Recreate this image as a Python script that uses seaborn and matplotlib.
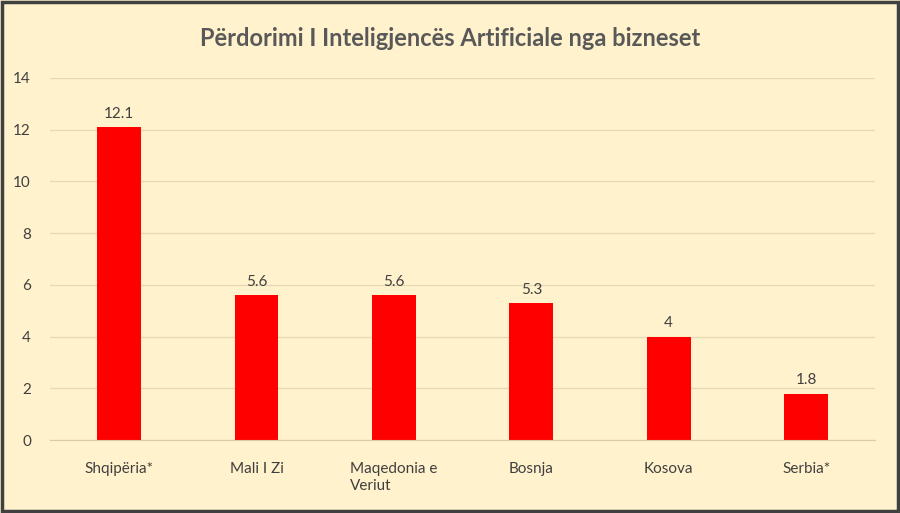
import matplotlib
matplotlib.use("Agg")
import matplotlib.pyplot as plt
import seaborn as sns
import pandas as pd
from matplotlib.patches import Rectangle

categories = ["Shqipëria*", "Mali I Zi", "Maqedonia e\nVeriut", "Bosnja", "Kosova", "Serbia*"]
values = [12.1, 5.6, 5.6, 5.3, 4, 1.8]
labels = ["12.1", "5.6", "5.6", "5.3", "4", "1.8"]
yticks = [0, 2, 4, 6, 8, 10, 12, 14]

df = pd.DataFrame({"country": categories, "value": values})
bg = "#FFF2CC"
plt.rcParams["font.family"] = "Lato"
fig = plt.figure(figsize=(9, 5.13), dpi=100, facecolor=bg)
ax = fig.add_axes([0.056, 0.142, 0.916, 0.706], facecolor=bg)
sns.barplot(data=df, x="country", y="value", color="#FF0000", width=0.32, saturation=1, ax=ax)
for i, (v, l) in enumerate(zip(values, labels)):
    ax.text(i, v + 0.25, l, ha="center", va="bottom", fontsize=11, color="#404040")
ax.set_ylim(0, 14)
ax.set_yticks(yticks)
ax.grid(axis="y", color="#E6D9B5", linewidth=1)
ax.set_axisbelow(True)
for s in ["top", "right", "left"]:
    ax.spines[s].set_visible(False)
ax.spines["bottom"].set_color("#D9CBA8")
ax.tick_params(length=0, labelsize=11, labelcolor="#404040")
ax.tick_params(axis="y", pad=14)
ax.tick_params(axis="x", pad=16)
for t in ax.get_xticklabels():
    t.set_multialignment("left")
ax.set_xlabel("")
ax.set_ylabel("")
fig.text(0.5, 0.925, "Përdorimi I Inteligjencës Artificiale nga bizneset", ha="center", va="center",
         fontsize=17, fontweight="bold", color="#595959")
fig.patches.append(Rectangle((0.002, 0.003), 0.996, 0.994, transform=fig.transFigure,
                             fill=False, edgecolor="#404040", linewidth=2.5))
fig.savefig("out.png", dpi=100, facecolor=bg)
